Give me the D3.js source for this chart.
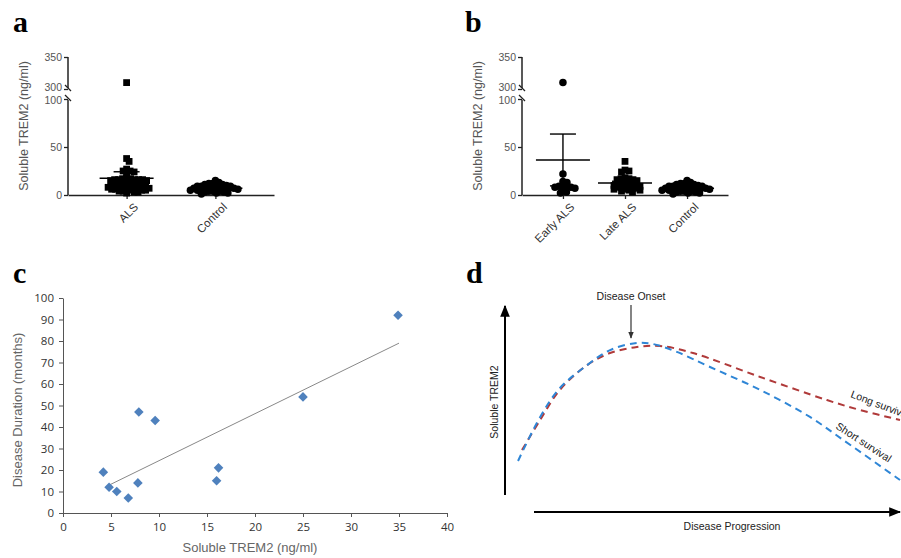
<!DOCTYPE html>
<html>
<head>
<meta charset="utf-8">
<script src="https://cdn.jsdelivr.net/npm/d3@7"></script>
<style>
  body { margin: 0; background: #fff; }
  svg { display: block; font-family: "Liberation Sans", Arial, sans-serif; }
  .letter { font-family: "Liberation Serif", "Times New Roman", serif; font-weight: bold; font-size: 30px; fill: #000; }
</style>
</head>
<body>
<svg width="901" height="558"></svg>
<script>
// ---- panel a ----
var groupsA = ["ALS", "Control"];
var alsA = [310, 38, 35, 27, 25, 25, 24, 23, 18, 17, 17, 16, 16, 16, 16, 16, 15, 15, 14, 13, 12, 12, 11, 11, 10, 10, 10, 9, 9, 9, 8, 8, 8, 7, 7, 7, 6, 6, 6, 5, 5, 5, 4, 4, 3, 3, 2];
var controlA = [15, 13, 12, 12, 11, 11, 10, 10, 9, 9, 9, 8, 8, 8, 7, 7, 7, 7, 6, 6, 6, 5, 5, 5, 4, 4, 4, 3, 3, 2, 2, 1];
var meanA = [17.4, 7];
var semA = [6.8, 0.8];

// ---- panel b ----
var groupsB = ["Early ALS", "Late ALS", "Control"];
var earlyB = [310, 22, 14, 13, 10, 9, 9, 8, 8, 7, 5, 3, 2];
var lateB = [35, 26, 25, 24, 18, 17, 17, 16, 16, 15, 14, 13, 12, 12, 11, 11, 10, 10, 9, 9, 8, 8, 7, 7, 6, 6, 5, 5, 4, 3];
var controlB = [15, 13, 12, 12, 11, 11, 10, 10, 9, 9, 9, 8, 8, 8, 7, 7, 7, 7, 6, 6, 6, 5, 5, 5, 4, 4, 4, 3, 3, 2, 2, 1];
var meanB = [36.5, 12.5, 7];
var semB = [27, 1.8, 0.8];

var yTicksAB = [0, 50, 100, 300, 350];

// ---- panel c ----
var trem2C = [4.2, 4.8, 5.6, 6.8, 7.8, 7.9, 9.6, 16, 16.2, 25, 34.9];
var durationC = [19, 12, 10, 7, 14, 47, 43, 15, 21, 54, 92];
var trendX = [4.5, 35];
var trendY = [12.3, 79];
var xTicksC = [0, 5, 10, 15, 20, 25, 30, 35, 40];
var yTicksC = [0, 10, 20, 30, 40, 50, 60, 70, 80, 90, 100];

// ---- panel d (schematic, arbitrary units 0-100) ----
var progShort = [3.3, 8.9, 13.9, 20.8, 26.6, 33.4, 37.5, 43.5, 51.9, 64.6, 77.2, 85.6, 100];
var levelShort = [18.1, 41.5, 56.9, 69.1, 77.1, 80.9, 80.3, 76.1, 68.1, 55.9, 41.5, 29.3, 8.0];
var progLong = [4.3, 8.9, 13.9, 20.8, 26.6, 33.4, 39.2, 47.6, 64.6, 81.5, 89.9, 100];
var levelLong = [23.9, 39.9, 55.9, 69.1, 75.5, 78.7, 79.3, 75.5, 62.8, 50.5, 45.2, 39.9];

var svg = d3.select("svg");
svg.append("rect").attr("width", 901).attr("height", 558).attr("fill", "#fff");

var defs = svg.append("defs");
defs.append("marker").attr("id", "arr").attr("viewBox", "0 0 10 10")
  .attr("refX", 9).attr("refY", 5).attr("markerWidth", 6).attr("markerHeight", 6)
  .attr("orient", "auto")
  .append("path").attr("d", "M0,1 L10,5 L0,9 z").attr("fill", "#000");
defs.append("marker").attr("id", "arrGray").attr("viewBox", "0 0 10 10")
  .attr("refX", 9).attr("refY", 5).attr("markerWidth", 6).attr("markerHeight", 6)
  .attr("orient", "auto")
  .append("path").attr("d", "M0,1 L10,5 L0,9 z").attr("fill", "#333");

// letters
[["a", 13, 32], ["b", 465, 32], ["c", 13, 283], ["d", 466, 283]].forEach(function(l) {
  svg.append("text").attr("class", "letter").attr("x", l[1]).attr("y", l[2]).text(l[0]);
});

// greedy beeswarm: points may overlap a bit (minDist < marker size)
function swarm(values, yScale, cx, minDist) {
  var placed = [];
  values.slice().sort(function(a, b) { return b - a; }).forEach(function(v) {
    var yy = yScale(v);
    for (var k = 0; k < 400; k++) {
      var off = (k % 2 ? 1 : -1) * Math.ceil(k / 2) * 0.5;
      var xx = cx + off;
      var ok = placed.every(function(p) {
        var dx = p.x - xx, dy = p.y - yy;
        return dx * dx + dy * dy >= minDist * minDist;
      });
      if (ok) { placed.push({ v: v, x: xx, y: yy }); break; }
    }
  });
  return placed;
}

function dotPanel(x0, groups, series, shapes, means, sems) {
  var y = d3.scaleLinear().domain([0, 100, 300, 350]).range([195, 99, 89, 57]);
  var x = d3.scalePoint().domain(groups).range([x0, x0 + 206]).padding(0.66);
  var g = svg.append("g");

  var ya = g.append("g").attr("transform", "translate(" + x0 + ",0)")
    .call(d3.axisLeft(y).tickValues(yTicksAB).tickSize(4).tickPadding(2));
  ya.select(".domain").remove();
  ya.selectAll("line").attr("stroke", "#222").attr("stroke-width", 1.3);
  ya.selectAll("text").attr("fill", "#555").attr("font-size", 10.5)
    .attr("font-family", "Liberation Sans, Arial, sans-serif")
    .attr("dy", function(d) { return d === 300 ? "0.15em" : d === 100 ? "0.45em" : "0.32em"; });
  // broken axis segments
  g.append("line").attr("x1", x0).attr("x2", x0).attr("y1", y(0)).attr("y2", y(100) + 1)
    .attr("stroke", "#222").attr("stroke-width", 1.5);
  g.append("line").attr("x1", x0).attr("x2", x0).attr("y1", y(300) - 1).attr("y2", y(350))
    .attr("stroke", "#222").attr("stroke-width", 1.5);
  [y(300), y(100)].forEach(function(yy) {
    g.append("line").attr("x1", x0 - 3).attr("x2", x0 + 3).attr("y1", yy - 4).attr("y2", yy + 2)
      .attr("stroke", "#222").attr("stroke-width", 1.2);
  });

  var xa = g.append("g").attr("transform", "translate(0,195)")
    .call(d3.axisBottom(x).tickSize(4).tickSizeOuter(0).tickPadding(5));
  xa.select(".domain").attr("stroke", "#222").attr("stroke-width", 1.5);
  xa.selectAll("line").attr("stroke", "#222").attr("stroke-width", 1.3);
  xa.selectAll("text").attr("fill", "#333").attr("font-size", 11.5)
    .attr("font-family", "Liberation Sans, Arial, sans-serif")
    .attr("text-anchor", "end").attr("dy", "0.3em")
    .attr("transform", "translate(3,4) rotate(-45)");

  g.append("text").attr("transform", "translate(" + (x0 - 40) + ",126) rotate(-90)")
    .attr("text-anchor", "middle").attr("fill", "#555").attr("font-size", 12.5)
    .text("Soluble TREM2 (ng/ml)");

  groups.forEach(function(gr, i) {
    var pts = swarm(series[i], y, x(gr), 3.8);
    var shape = shapes[i] === "square" ? d3.symbolSquare : d3.symbolCircle;
    g.append("g").selectAll("path").data(pts).enter().append("path")
      .attr("d", d3.symbol().type(shape).size(shapes[i] === "square" ? 46 : 44))
      .attr("transform", function(d) { return "translate(" + d.x + "," + d.y + ")"; })
      .attr("fill", "#000");
    var cx = x(gr);
    var m = means[i], s = sems[i];
    g.append("line").attr("x1", cx - 27).attr("x2", cx + 27).attr("y1", y(m)).attr("y2", y(m))
      .attr("stroke", "#000").attr("stroke-width", 1.4);
    g.append("line").attr("x1", cx).attr("x2", cx).attr("y1", y(m - s)).attr("y2", y(m + s))
      .attr("stroke", "#000").attr("stroke-width", 1.4);
    [m - s, m + s].forEach(function(v) {
      g.append("line").attr("x1", cx - 13).attr("x2", cx + 13).attr("y1", y(v)).attr("y2", y(v))
        .attr("stroke", "#000").attr("stroke-width", 1.4);
    });
  });
}

dotPanel(68, groupsA, [alsA, controlA], ["square", "circle"], meanA, semA);
dotPanel(522, groupsB, [earlyB, lateB, controlB], ["circle", "square", "circle"], meanB, semB);

// ---- panel c ----
(function() {
  var x = d3.scaleLinear().domain([0, 40]).range([63, 447]);
  var y = d3.scaleLinear().domain([0, 100]).range([513, 298]);
  var g = svg.append("g");
  var xa = g.append("g").attr("transform", "translate(0,513)")
    .call(d3.axisBottom(x).tickValues(xTicksC).tickSize(4).tickSizeOuter(0).tickPadding(6));
  var ya = g.append("g").attr("transform", "translate(63,0)")
    .call(d3.axisLeft(y).tickValues(yTicksC).tickSize(4).tickSizeOuter(0).tickPadding(5));
  [xa, ya].forEach(function(a) {
    a.select(".domain").attr("stroke", "#555");
    a.selectAll("line").attr("stroke", "#555");
    a.selectAll("text").attr("fill", "#333").attr("font-size", 11.5)
      .attr("font-family", "Open Sans, Liberation Sans, sans-serif");
  });
  g.append("line").attr("x1", x(trendX[0])).attr("y1", y(trendY[0]))
    .attr("x2", x(trendX[1])).attr("y2", y(trendY[1]))
    .attr("stroke", "#888").attr("stroke-width", 1);
  g.selectAll(".pt").data(trem2C).enter().append("path")
    .attr("d", d3.symbol().type(d3.symbolSquare).size(46))
    .attr("transform", function(d, i) { return "translate(" + x(d) + "," + y(durationC[i]) + ") rotate(45)"; })
    .attr("fill", "#4F81BD");
  g.append("text").attr("x", 250).attr("y", 552).attr("text-anchor", "middle")
    .attr("fill", "#666").attr("font-size", 13).text("Soluble TREM2 (ng/ml)");
  g.append("text").attr("transform", "translate(22,410) rotate(-90)").attr("text-anchor", "middle")
    .attr("fill", "#666").attr("font-size", 13).text("Disease Duration (months)");
})();

// ---- panel d ----
(function() {
  var x = d3.scaleLinear().domain([0, 100]).range([505, 900]);
  var y = d3.scaleLinear().domain([0, 100]).range([495, 307]);
  var g = svg.append("g");
  g.append("line").attr("x1", 505).attr("x2", 505).attr("y1", 495).attr("y2", 306)
    .attr("stroke", "#000").attr("stroke-width", 2).attr("marker-end", "url(#arr)");
  g.append("line").attr("x1", 534).attr("x2", 900).attr("y1", 512).attr("y2", 512)
    .attr("stroke", "#000").attr("stroke-width", 2).attr("marker-end", "url(#arr)");
  g.append("text").attr("x", 732).attr("y", 530).attr("text-anchor", "middle")
    .attr("font-size", 10.5).attr("fill", "#222").text("Disease Progression");
  g.append("text").attr("transform", "translate(498,402) rotate(-90)").attr("text-anchor", "middle")
    .attr("font-size", 10.5).attr("fill", "#222").text("Soluble TREM2");
  g.append("text").attr("x", 631).attr("y", 300).attr("text-anchor", "middle")
    .attr("font-size", 10.5).attr("fill", "#222").text("Disease Onset");
  g.append("line").attr("x1", 631).attr("x2", 631).attr("y1", 305).attr("y2", 338)
    .attr("stroke", "#333").attr("stroke-width", 1.2).attr("marker-end", "url(#arrGray)");

  var line = d3.line().x(function(d) { return x(d[0]); }).y(function(d) { return y(d[1]); })
    .curve(d3.curveCatmullRom);
  g.append("path").datum(d3.zip(progLong, levelLong)).attr("d", line)
    .attr("fill", "none").attr("stroke", "#B03A3A").attr("stroke-width", 2)
    .attr("stroke-dasharray", "7,5");
  g.append("path").datum(d3.zip(progShort, levelShort)).attr("d", line)
    .attr("fill", "none").attr("stroke", "#2F86D6").attr("stroke-width", 2)
    .attr("stroke-dasharray", "7,5");
  g.append("text").attr("transform", "translate(850,397) rotate(21)")
    .attr("font-size", 10.5).attr("fill", "#222").text("Long survival");
  g.append("text").attr("transform", "translate(835,428) rotate(33)")
    .attr("font-size", 10.5).attr("fill", "#222").text("Short survival");
})();
</script>
</body>
</html>
